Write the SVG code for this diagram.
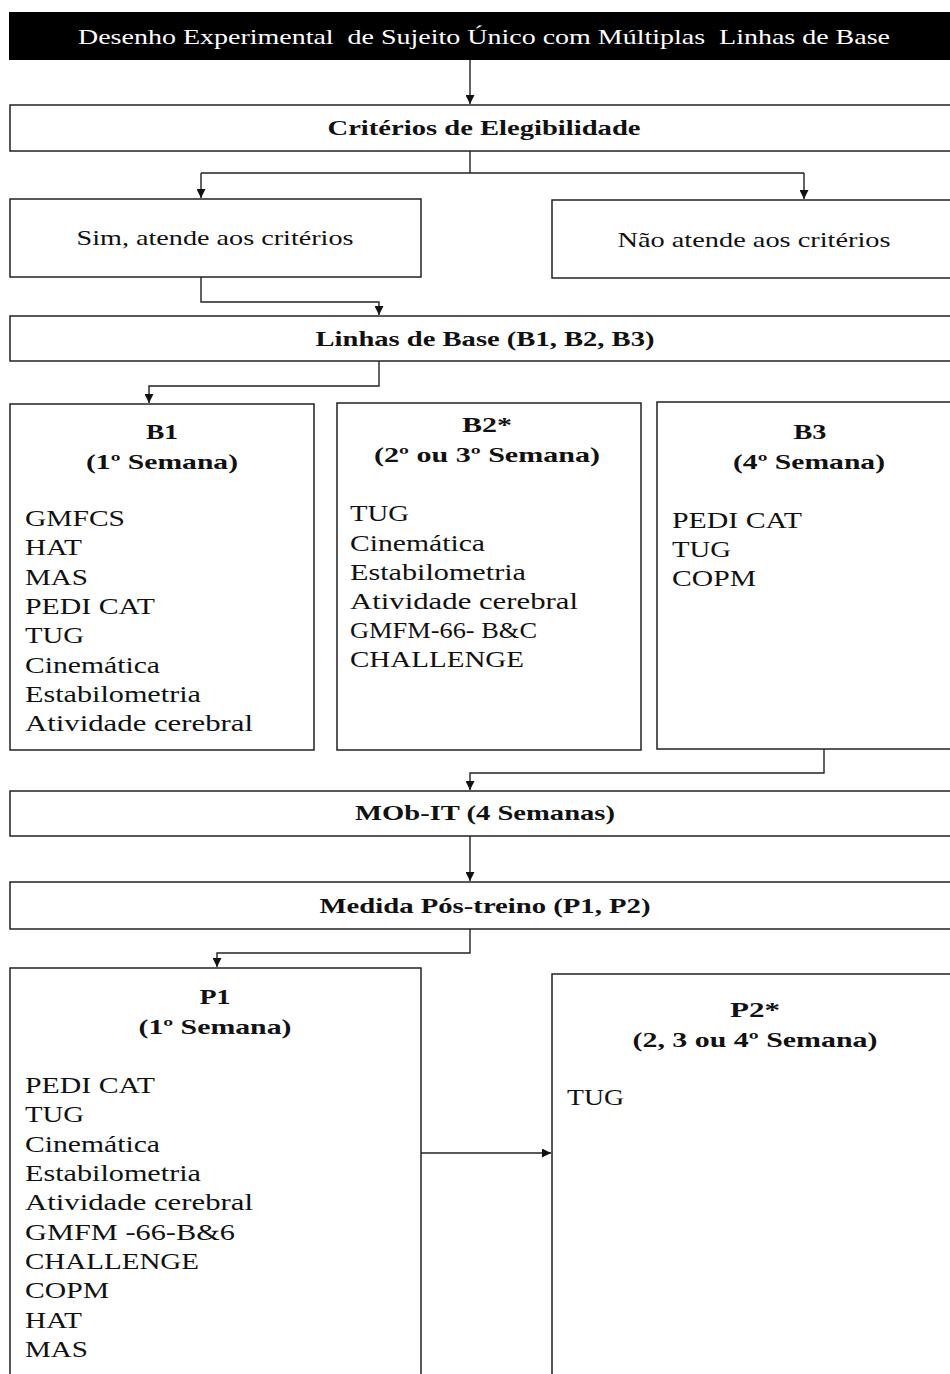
<svg xmlns="http://www.w3.org/2000/svg" width="950" height="1374" viewBox="0 0 950 1374">
<style>
.box{fill:#fff;stroke:#222;stroke-width:1.5}
.hd{font-family:"Liberation Serif","Times New Roman",serif;font-weight:bold;font-size:21px;fill:#111;text-anchor:middle}
.tx{font-family:"Liberation Serif","Times New Roman",serif;font-size:22px;fill:#111;text-anchor:middle}
.it{font-family:"Liberation Serif","Times New Roman",serif;font-size:23px;fill:#111}
.ln{fill:none;stroke:#222;stroke-width:1.4}
</style>
<defs>
<marker id="ah" viewBox="0 0 10 10" refX="10" refY="5" markerWidth="10" markerHeight="9" markerUnits="userSpaceOnUse" orient="auto">
<path d="M0,0 L10,5 L0,10 z" fill="#111"/>
</marker>
</defs>
<rect width="950" height="1374" fill="#fff"/>

<g id="title">
<rect x="9" y="12" width="960" height="48" fill="#000"/>
<text x="484" y="44" font-family="Liberation Serif, Times New Roman, serif" font-size="22" fill="#fff" text-anchor="middle" textLength="812" lengthAdjust="spacingAndGlyphs">Desenho Experimental&#160; de Sujeito Único com Múltiplas&#160; Linhas de Base</text>
</g>

<g id="criterios">
<rect class="box" x="10" y="105" width="960" height="46"/>
<text class="hd" x="484" y="135" textLength="313" lengthAdjust="spacingAndGlyphs">Critérios de Elegibilidade</text>
</g>

<g id="sim">
<rect class="box" x="10" y="199" width="411" height="78"/>
<text class="tx" x="215" y="245" textLength="277" lengthAdjust="spacingAndGlyphs">Sim, atende aos critérios</text>
</g>

<g id="nao">
<rect class="box" x="552" y="200" width="410" height="78"/>
<text class="tx" x="754" y="247" textLength="273" lengthAdjust="spacingAndGlyphs">Não atende aos critérios</text>
</g>

<g id="linhas">
<rect class="box" x="10" y="316" width="960" height="45"/>
<text class="hd" x="485" y="346" textLength="339" lengthAdjust="spacingAndGlyphs">Linhas de Base (B1, B2, B3)</text>
</g>

<g id="b1">
<rect class="box" x="10" y="404" width="304" height="346"/>
<text class="hd" x="162" y="439" textLength="32" lengthAdjust="spacingAndGlyphs">B1</text>
<text class="hd" x="162" y="469" textLength="152" lengthAdjust="spacingAndGlyphs">(1º Semana)</text>
<text class="it" x="25" y="526" textLength="100" lengthAdjust="spacingAndGlyphs">GMFCS</text>
<text class="it" x="25" y="555" textLength="57" lengthAdjust="spacingAndGlyphs">HAT</text>
<text class="it" x="25" y="585" textLength="63" lengthAdjust="spacingAndGlyphs">MAS</text>
<text class="it" x="25" y="614" textLength="130" lengthAdjust="spacingAndGlyphs">PEDI CAT</text>
<text class="it" x="25" y="643" textLength="59" lengthAdjust="spacingAndGlyphs">TUG</text>
<text class="it" x="25" y="673" textLength="135" lengthAdjust="spacingAndGlyphs">Cinemática</text>
<text class="it" x="25" y="702" textLength="176" lengthAdjust="spacingAndGlyphs">Estabilometria</text>
<text class="it" x="25" y="731" textLength="228" lengthAdjust="spacingAndGlyphs">Atividade cerebral</text>
</g>

<g id="b2">
<rect class="box" x="337" y="403" width="304" height="347"/>
<text class="hd" x="487" y="432" textLength="50" lengthAdjust="spacingAndGlyphs">B2*</text>
<text class="hd" x="487" y="462" textLength="226" lengthAdjust="spacingAndGlyphs">(2º ou 3º Semana)</text>
<text class="it" x="350" y="521" textLength="59" lengthAdjust="spacingAndGlyphs">TUG</text>
<text class="it" x="350" y="551" textLength="135" lengthAdjust="spacingAndGlyphs">Cinemática</text>
<text class="it" x="350" y="580" textLength="176" lengthAdjust="spacingAndGlyphs">Estabilometria</text>
<text class="it" x="350" y="609" textLength="228" lengthAdjust="spacingAndGlyphs">Atividade cerebral</text>
<text class="it" x="350" y="638" textLength="187" lengthAdjust="spacingAndGlyphs">GMFM-66- B&amp;C</text>
<text class="it" x="350" y="667" textLength="174" lengthAdjust="spacingAndGlyphs">CHALLENGE</text>
</g>

<g id="b3">
<rect class="box" x="657" y="402" width="310" height="347"/>
<text class="hd" x="810" y="439" textLength="33" lengthAdjust="spacingAndGlyphs">B3</text>
<text class="hd" x="809" y="469" textLength="152" lengthAdjust="spacingAndGlyphs">(4º Semana)</text>
<text class="it" x="672" y="528" textLength="130" lengthAdjust="spacingAndGlyphs">PEDI CAT</text>
<text class="it" x="672" y="557" textLength="59" lengthAdjust="spacingAndGlyphs">TUG</text>
<text class="it" x="672" y="586" textLength="84" lengthAdjust="spacingAndGlyphs">COPM</text>
</g>

<g id="mobit">
<rect class="box" x="10" y="791" width="960" height="45"/>
<text class="hd" x="485" y="820" textLength="260" lengthAdjust="spacingAndGlyphs">MOb-IT (4 Semanas)</text>
</g>

<g id="medida">
<rect class="box" x="10" y="882" width="960" height="47"/>
<text class="hd" x="485" y="913" textLength="331" lengthAdjust="spacingAndGlyphs">Medida Pós-treino (P1, P2)</text>
</g>

<g id="p1">
<rect class="box" x="10" y="968" width="411" height="430"/>
<text class="hd" x="215" y="1004" textLength="31" lengthAdjust="spacingAndGlyphs">P1</text>
<text class="hd" x="215" y="1034" textLength="153" lengthAdjust="spacingAndGlyphs">(1º Semana)</text>
<text class="it" x="25" y="1093" textLength="130" lengthAdjust="spacingAndGlyphs">PEDI CAT</text>
<text class="it" x="25" y="1122" textLength="59" lengthAdjust="spacingAndGlyphs">TUG</text>
<text class="it" x="25" y="1152" textLength="135" lengthAdjust="spacingAndGlyphs">Cinemática</text>
<text class="it" x="25" y="1181" textLength="176" lengthAdjust="spacingAndGlyphs">Estabilometria</text>
<text class="it" x="25" y="1210" textLength="228" lengthAdjust="spacingAndGlyphs">Atividade cerebral</text>
<text class="it" x="25" y="1240" textLength="210" lengthAdjust="spacingAndGlyphs">GMFM -66-B&amp;6</text>
<text class="it" x="25" y="1269" textLength="174" lengthAdjust="spacingAndGlyphs">CHALLENGE</text>
<text class="it" x="25" y="1298" textLength="84" lengthAdjust="spacingAndGlyphs">COPM</text>
<text class="it" x="25" y="1328" textLength="57" lengthAdjust="spacingAndGlyphs">HAT</text>
<text class="it" x="25" y="1357" textLength="63" lengthAdjust="spacingAndGlyphs">MAS</text>
</g>

<g id="p2">
<rect class="box" x="552" y="974" width="420" height="430"/>
<text class="hd" x="755" y="1017" textLength="50" lengthAdjust="spacingAndGlyphs">P2*</text>
<text class="hd" x="755" y="1047" textLength="245" lengthAdjust="spacingAndGlyphs">(2, 3 ou 4º Semana)</text>
<text class="it" x="567" y="1105" textLength="57" lengthAdjust="spacingAndGlyphs">TUG</text>
</g>

<g id="connectors">
<path class="ln" d="M470 60 V104" marker-end="url(#ah)"/>
<path class="ln" d="M470 151 V173 M201 173 H804"/>
<path class="ln" d="M201 173 V198" marker-end="url(#ah)"/>
<path class="ln" d="M804 173 V199" marker-end="url(#ah)"/>
<path class="ln" d="M201 277 V302 H379 V315" marker-end="url(#ah)"/>
<path class="ln" d="M379 361 V386 H149 V403" marker-end="url(#ah)"/>
<path class="ln" d="M824 749 V773 H470 V790" marker-end="url(#ah)"/>
<path class="ln" d="M470 836 V881" marker-end="url(#ah)"/>
<path class="ln" d="M470 929 V953 H217 V967" marker-end="url(#ah)"/>
<path class="ln" d="M421 1153 H551" marker-end="url(#ah)"/>
</g>
</svg>
